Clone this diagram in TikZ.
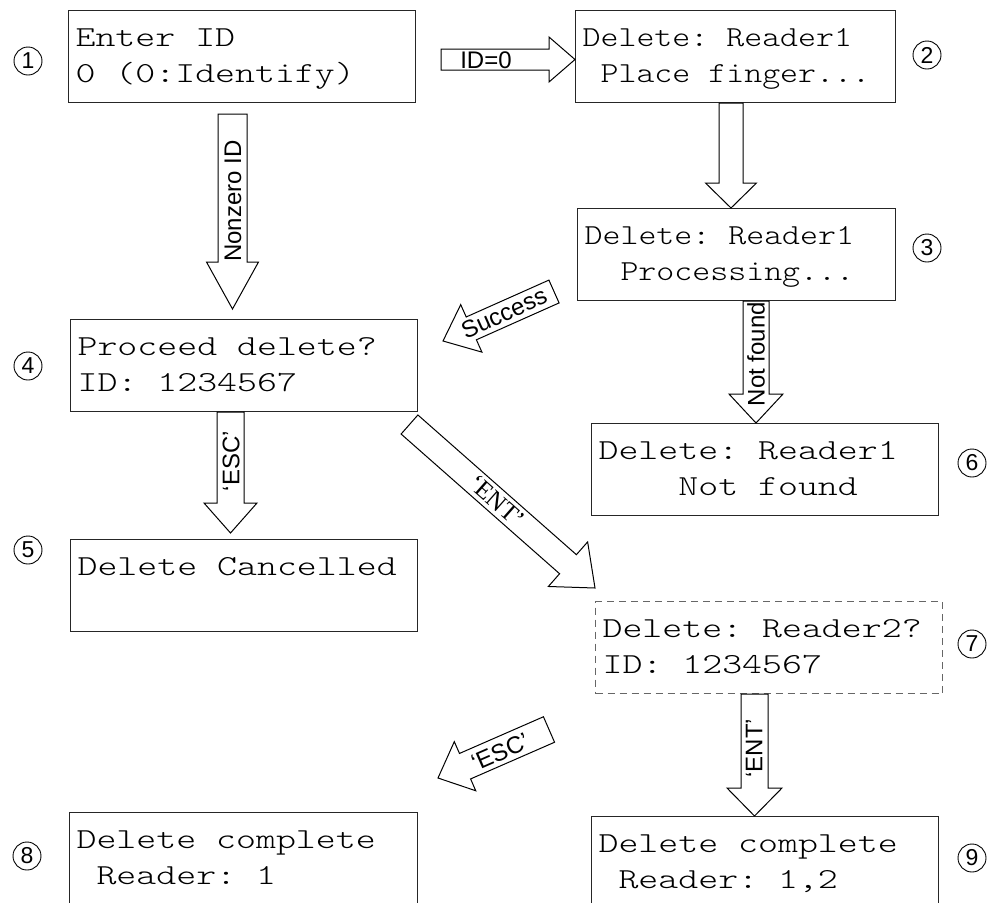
\documentclass[tikz,border=0pt]{standalone}
\usepackage{fontspec}
\usetikzlibrary{calc}
\newfontfamily\lcdfontA[FakeStretch=1.31]{lmmonolt10-regular.otf}
\newfontfamily\lcdfontB[FakeStretch=1.18]{lmmonolt10-regular.otf}
\newfontfamily\labfontA{Liberation Sans}
\newfontfamily\labfontB{Liberation Serif}
\newcommand\LcdA{\lcdfontA\fontsize{29}{36}\selectfont}
\newcommand\LcdB{\lcdfontB\fontsize{29}{36}\selectfont}
\newcommand\LabA{\labfontA\fontsize{24}{24}\selectfont}
\newcommand\LabS{\labfontB\fontsize{25}{25}\selectfont}
\newcommand\NumF{\labfontA\fontsize{23}{23}\selectfont}
\newcommand\SP{\phantom{x}}
% block arrow: tail, tip, shaft half width, head half width, head length
\newcommand\blockarrow[5]{%
  \draw[barrow] ($(#1)!#3pt!90:(#2)$)
    -- ($(#2)!#5pt!(#1)!#3pt!-90:(#1)$)
    -- ($(#2)!#5pt!(#1)!#4pt!-90:(#1)$)
    -- (#2)
    -- ($(#2)!#5pt!(#1)!#4pt!90:(#1)$)
    -- ($(#2)!#5pt!(#1)!#3pt!90:(#1)$)
    -- ($(#1)!#3pt!-90:(#2)$) -- cycle;}
\tikzset{
  lcdbox/.style={draw=black!85, line width=1.2pt, anchor=north west,
    inner xsep=7pt, inner ysep=0pt, minimum height=92pt, align=left,
    text height=26pt, text depth=46pt, font=\LcdA},
  dashbox/.style={lcdbox, draw=black!60, dash pattern=on 7pt off 5pt},
  barrow/.style={draw=black, line width=1pt, fill=white, line join=miter},
  lab/.style={font=\LabA, inner sep=0pt},
  num/.style={circle, draw=black, line width=0.9pt, inner sep=0pt, minimum size=28pt, font=\NumF},
}
\begin{document}
\begin{tikzpicture}[x=1pt,y=-1pt]
\useasboundingbox (0,0) rectangle (989,903);
% boxes
\node[lcdbox, text width=333pt] (b1) at (68,10) {Enter\SP ID\\0\SP (0:Identify)};
\node[lcdbox, text width=306pt, font=\LcdB] (b2) at (575,10) {Delete:\SP Reader1\\\SP Place\SP finger...};
\node[lcdbox, text width=304pt, font=\LcdB] (b3) at (577,208) {Delete:\SP Reader1\\\SP\SP Processing...};
\node[lcdbox, text width=333pt] (b4) at (70,319) {Proceed\SP delete?\\ID:\SP 1234567};
\node[lcdbox, text width=333pt] (b5) at (70,539) {Delete\SP Cancelled};
\node[lcdbox, text width=333pt] (b6) at (591,423) {Delete:\SP Reader1\\\SP\SP\SP\SP Not\SP found};
\node[dashbox, text width=333pt] (b7) at (595,601) {Delete:\SP Reader2?\\ID:\SP 1234567};
\node[lcdbox, text width=334pt] (b8) at (69,812) {Delete\SP complete\\\SP Reader:\SP 1};
\node[lcdbox, text width=333pt] (b9) at (591,816) {Delete\SP complete\\\SP Reader:\SP 1,2};
% step numbers
\node[num] (n1) at (28,61) {1};
\node[num] (n2) at (927,55) {2};
\node[num] (n3) at (927,248) {3};
\node[num] (n4) at (28,366) {4};
\node[num] (n5) at (28,550) {5};
\node[num] (n6) at (972,463) {6};
\node[num] (n7) at (972,644) {7};
\node[num] (n8) at (27,856) {8};
\node[num] (n9) at (972,858) {9};
% arrow end points
\coordinate (idzT) at (441,59.5);   \coordinate (idzH) at (b2.west |- idzT);
\coordinate (nzT) at (232.5,114);   \coordinate (nzH) at (232.5,309);
\coordinate (a23T) at (731,0 |- b2.south); \coordinate (a23H) at (731,0 |- b3.north);
\coordinate (sucT) at (554,291.5);  \coordinate (sucH) at (443,341);
\coordinate (nfT) at (756,0 |- b3.south); \coordinate (nfH) at (756,0 |- b6.north);
\coordinate (escT) at (230.5,0 |- b4.south); \coordinate (escH) at (230.5,533);
\coordinate (entdT) at (409.5,424.5); \coordinate (entdH) at (595,588);
\coordinate (escdT) at (549,729.5); \coordinate (escdH) at (438,778);
\coordinate (entvT) at (754.5,0 |- b7.south); \coordinate (entvH) at (754.5,0 |- b9.north);
% arrows
\blockarrow{idzT}{idzH}{10.5}{22.5}{26}
\blockarrow{nzT}{nzH}{14.5}{26}{47}
\blockarrow{a23T}{a23H}{12}{25.5}{25}
\blockarrow{sucT}{sucH}{12.5}{26}{31}
\blockarrow{nfT}{nfH}{13}{27}{29}
\blockarrow{escT}{escH}{13.5}{26.5}{30}
\blockarrow{entdT}{entdH}{12.7}{29.7}{36}
\blockarrow{escdT}{escdH}{13.9}{26.8}{29.5}
\blockarrow{entvT}{entvH}{13.5}{27.5}{28}
% labels
\node[lab] (lidz) at (486,60) {ID=0};
\node[lab, rotate=90] (lnz) at (233,201) {Nonzero ID};
\node[lab, rotate=90] (lesc) at (231,461) {‘ESC’};
\node[lab, rotate=90] (lnf) at (756,354) {Not found};
\node[lab, rotate=24] (lsuc) at (504,313) {Success};
\node[lab, rotate=-41.4, font=\LabS] (lentd) at (497,501) {‘ENT’};
\node[lab, rotate=23.6] (lescd) at (500,752) {‘ESC’};
\node[lab, rotate=90] (lentv) at (754,748) {‘ENT’};
\end{tikzpicture}
\end{document}
